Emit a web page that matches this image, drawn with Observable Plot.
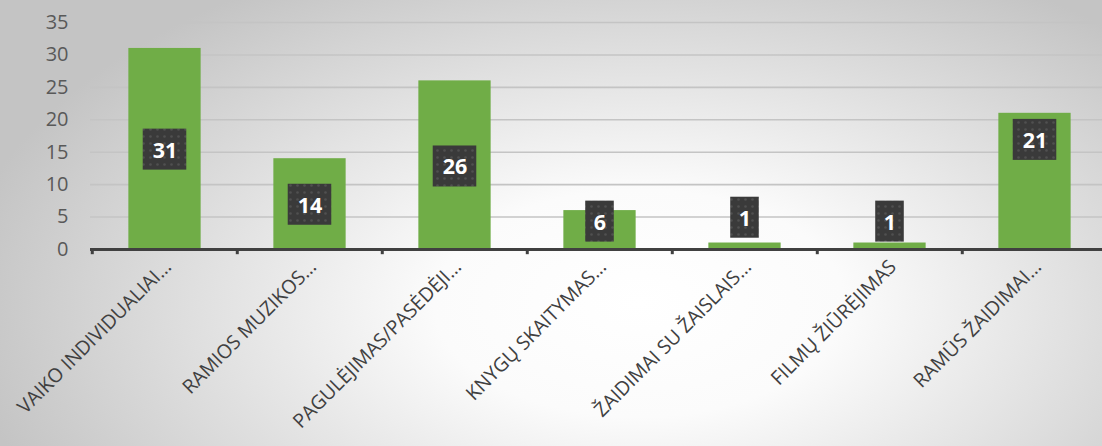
<!DOCTYPE html>
<html>
<head>
<meta charset="utf-8">
<script src="https://cdn.jsdelivr.net/npm/d3@7"></script>
<script src="https://cdn.jsdelivr.net/npm/@observablehq/plot@0.6"></script>
<style>
  html, body { margin: 0; padding: 0; overflow: hidden; }
  body {
    width: 1102px; height: 446px;
    background: radial-gradient(ellipse 62% 85% at 58% 68%, #ffffff 0%, #fbfbfb 30%, #c4c4c4 100%);
    font-family: "Open Sans", sans-serif;
  }
</style>
</head>
<body>
<div id="chart"></div>
<script>
const categories = [
  "VAIKO INDIVIDUALIAI…",
  "RAMIOS MUZIKOS…",
  "PAGULĖJIMAS/PASĖDĖJI…",
  "KNYGŲ SKAITYMAS…",
  "ŽAIDIMAI SU ŽAISLAIS…",
  "FILMŲ ŽIŪRĖJIMAS",
  "RAMŪS ŽAIDIMAI…"
];
const values = [31, 14, 26, 6, 1, 1, 21];
// where each data label sits, in value units
const labelAt = [15.4, 6.9, 12.8, 4.3, 4.9, 4.3, 16.9];
const yTicks = [0, 5, 10, 15, 20, 25, 30, 35];

const data = categories.map((c, i) => ({cat: c, value: values[i], at: labelAt[i]}));

const W = 1102, H = 446;
const x0 = 90, x1 = 1108;
const yTop = 22, yBottom = 249;
const step = (x1 - x0) / categories.length;
const pxPerUnit = (yBottom - yTop) / 35;
const boxHalf = 20.5 / pxPerUnit;

const plot = Plot.plot({
  width: W,
  height: H,
  marginLeft: x0,
  marginTop: yTop,
  marginBottom: H - yBottom,
  marginRight: 0,
  style: {background: "transparent", fontFamily: "Open Sans, sans-serif", overflow: "visible"},
  x: {domain: categories, range: [x0, x1], padding: 0, label: null},
  y: {domain: [0, 35], range: [yBottom, yTop], label: null},
  marks: [
    Plot.gridY(yTicks, {stroke: "#c4c4c4", strokeOpacity: 1, strokeWidth: 1.6}),
    Plot.axisY(yTicks, {tickSize: 0, tickPadding: 22, fontSize: 20, fill: "#595959", label: null}),
    Plot.barY(data, {x: "cat", y: "value", fill: "#70ad47", insetLeft: step * 0.25, insetRight: step * 0.25,
      style: "filter: drop-shadow(0px 0px 3px rgba(0,0,0,0.22))"}),
    Plot.ruleY([0], {stroke: "#404040", strokeWidth: 3.2}),
    Plot.ruleX(categories, {x: d => d, y1: 0, y2: -0.8, dx: -step / 2, stroke: "#404040", strokeWidth: 3}),
    Plot.axisX({tickSize: 0, tickRotate: -45, tickPadding: 10, fontSize: 19.5, fill: "#404040", dx: 3, dy: 4, label: null}),
    Plot.barY(data.filter(d => d.value >= 10), {x: "cat", y1: d => d.at - boxHalf, y2: d => d.at + boxHalf,
      insetLeft: (step - 44) / 2, insetRight: (step - 44) / 2, fill: "url(#dots)",
      style: "filter: drop-shadow(3px 4px 3px rgba(0,0,0,0.45))"}),
    Plot.barY(data.filter(d => d.value < 10), {x: "cat", y1: d => d.at - boxHalf, y2: d => d.at + boxHalf,
      insetLeft: (step - 29) / 2, insetRight: (step - 29) / 2, fill: "url(#dots)",
      style: "filter: drop-shadow(3px 4px 3px rgba(0,0,0,0.45))"}),
    Plot.text(data, {x: "cat", y: "at", text: d => String(d.value), fill: "white", fontSize: 21.5,
      fontWeight: "bold", dy: 1})
  ]
});

// dotted fill pattern for the data-label boxes
const ns = "http://www.w3.org/2000/svg";
const defs = document.createElementNS(ns, "defs");
defs.innerHTML = `<pattern id="dots" width="7" height="7" patternUnits="userSpaceOnUse">
  <rect width="7" height="7" fill="#3a3a3a"></rect>
  <circle cx="3.5" cy="3.5" r="1.3" fill="#505050"></circle>
</pattern>`;
plot.insertBefore(defs, plot.firstChild);
document.getElementById("chart").appendChild(plot);
</script>
</body>
</html>
